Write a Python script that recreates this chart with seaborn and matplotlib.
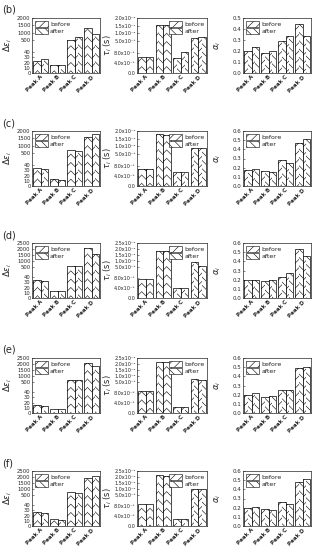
import numpy as np
import pandas as pd
import matplotlib
matplotlib.use('Agg')
import matplotlib.pyplot as plt
import seaborn as sns
from matplotlib.patches import Patch, Rectangle

sns.set_style('ticks')
plt.rcParams['font.family'] = ['DejaVu Sans']
plt.rcParams['hatch.linewidth'] = 0.4
plt.rcParams['axes.linewidth'] = 0.5

peaks = ['Peak A', 'Peak B', 'Peak C', 'Peak D']
row_labels = ['(b)', '(c)', '(d)', '(e)', '(f)']

# dielectric strength, one list per row (b)..(f)
de_before = [[24, 15, 550, 1300],
             [34, 13, 700, 1600],
             [35, 14, 560, 2050],
             [15, 8, 650, 2100],
             [27, 14, 700, 1950]]
de_after = [[27, 15, 750, 950],
            [32, 11, 650, 1800],
            [33, 13, 600, 1550],
            [13, 7, 620, 1850],
            [26, 12, 690, 2050]]

# relaxation time (s)
tau_before = [[6.5e-5, 1.55e-2, 6.0e-5, 7.0e-3],
              [7.0e-5, 1.80e-2, 5.8e-5, 9.0e-3],
              [7.5e-5, 1.85e-2, 4.1e-5, 9.5e-3],
              [9.0e-5, 2.15e-2, 2.5e-5, 7.5e-3],
              [9.0e-5, 2.15e-2, 2.8e-5, 1.0e-2]]
tau_after = [[6.5e-5, 1.55e-2, 8.5e-5, 7.5e-3],
             [7.0e-5, 1.75e-2, 5.5e-5, 8.5e-3],
             [7.5e-5, 1.85e-2, 4.2e-5, 6.0e-3],
             [9.0e-5, 2.15e-2, 2.5e-5, 7.0e-3],
             [9.0e-5, 2.10e-2, 2.8e-5, 1.0e-2]]

# shape parameter
alpha_before = [[0.197, 0.178, 0.29, 0.45],
                [0.18, 0.16, 0.28, 0.47],
                [0.20, 0.19, 0.233, 0.53],
                [0.20, 0.18, 0.255, 0.49],
                [0.20, 0.185, 0.265, 0.48]]
alpha_after = [[0.234, 0.20, 0.337, 0.337],
               [0.19, 0.15, 0.255, 0.515],
               [0.20, 0.20, 0.27, 0.463],
               [0.22, 0.19, 0.25, 0.50],
               [0.21, 0.18, 0.245, 0.51]]

de_top = [2000, 2000, 2500, 2500, 2500]
tau_top = [2.0e-2, 2.0e-2, 2.5e-2, 2.5e-2, 2.5e-2]
alpha_top = [0.5, 0.6, 0.6, 0.6, 0.6]

de_low_ticks = [0, 10, 20, 30, 40]
tau_low_ticks = [0.0, 4.0e-5, 8.0e-5]

SUP = str.maketrans('-0123456789', '⁻⁰¹²³⁴⁵⁶⁷⁸⁹')


def broken_scale(lo, top, frac):
    # piecewise linear axis: [0, lo] takes frac of the height, [lo, top] the rest
    def fwd(v):
        v = np.asarray(v, float)
        return np.where(v <= lo, v / lo * frac, frac + (v - lo) / (top - lo) * (1 - frac))

    def inv(u):
        u = np.asarray(u, float)
        return np.where(u <= frac, u / frac * lo, lo + (u - frac) / (1 - frac) * (top - lo))
    return fwd, inv


def sci(v):
    if v == 0:
        return '0.0'
    e = int(np.floor(np.log10(v)))
    m = v / 10 ** e
    return '%.1fx10%s' % (m, str(e).translate(SUP))


def draw_bars(ax, before, after):
    df = pd.DataFrame({'peak': peaks * 2,
                       'state': ['before'] * 4 + ['after'] * 4,
                       'value': list(before) + list(after)})
    sns.barplot(data=df, x='peak', y='value', hue='state', palette=['white', 'white'],
                edgecolor='black', linewidth=0.5, width=0.86, legend=False, ax=ax)


def add_chevrons(ax):
    for bar in list(ax.patches):
        x, w, h = bar.get_x(), bar.get_width(), bar.get_height()
        ax.add_patch(Rectangle((x, 0), w / 2, h, fill=False, hatch='////',
                               edgecolor='black', linewidth=0))
        ax.add_patch(Rectangle((x + w / 2, 0), w / 2, h, fill=False, hatch='\\\\\\\\',
                               edgecolor='black', linewidth=0))


def style(ax, ylabel, loc, label_x, tick_size=4):
    ax.set_xlabel('')
    ax.set_ylabel(ylabel, fontsize=6)
    ax.yaxis.set_label_coords(label_x, 0.5)
    ax.tick_params(axis='y', direction='in', length=1.5, width=0.4, labelsize=tick_size, pad=1)
    ax.tick_params(axis='x', length=0, labelsize=4, pad=1)
    for lab in ax.get_xticklabels():
        lab.set_rotation(45)
        lab.set_ha('right')
        lab.set_rotation_mode('anchor')
        lab.set_fontweight('bold')
    for s in ax.spines.values():
        s.set_visible(True)
        s.set_linewidth(0.5)
    handles = [Patch(facecolor='white', edgecolor='black', linewidth=0.4, hatch='////', label='before'),
               Patch(facecolor='white', edgecolor='black', linewidth=0.4, hatch='\\\\\\\\', label='after')]
    ax.legend(handles=handles, loc=loc, fontsize=4.5, frameon=False, handlelength=2.2,
              handleheight=1.3, labelspacing=0.05, handletextpad=0.3, borderaxespad=0.2,
              borderpad=0.2)


fig = plt.figure(figsize=(3.18, 5.5), dpi=100)
W, H = 318.0, 550.0
col_left = [32, 137, 243]
col_width = [68, 70, 68]
row_bottom = [73, 186, 298, 413, 526]
ax_h = 55

for r in range(5):
    yb = 1 - row_bottom[r] / H
    fig.text(2 / W, 1 - (row_bottom[r] - 63) / H, row_labels[r], fontsize=7, va='center', ha='left')

    # delta epsilon with broken axis
    ax = fig.add_axes([col_left[0] / W, yb, col_width[0] / W, ax_h / H])
    draw_bars(ax, de_before[r], de_after[r])
    ax.set_yscale('function', functions=broken_scale(50, de_top[r], 0.47))
    add_chevrons(ax)
    ax.set_ylim(0, de_top[r])
    up = list(range(500, de_top[r] + 1, 500))
    ax.set_yticks(de_low_ticks + up)
    ax.set_yticklabels([str(t) for t in de_low_ticks + up])
    ax.set_xlim(-0.5, 3.5)
    style(ax, r'$\Delta\varepsilon_i$', 'upper left', -0.27, 3.8)

    # tau with broken axis
    ax = fig.add_axes([col_left[1] / W, yb, col_width[1] / W, ax_h / H])
    draw_bars(ax, tau_before[r], tau_after[r])
    ax.set_yscale('function', functions=broken_scale(1e-4, tau_top[r], 0.45))
    add_chevrons(ax)
    ax.set_ylim(0, tau_top[r])
    up = list(np.arange(5e-3, tau_top[r] + 1e-4, 5e-3))
    ax.set_yticks(tau_low_ticks + up)
    ax.set_yticklabels([sci(t) for t in tau_low_ticks + up])
    ax.set_xlim(-0.5, 3.5)
    style(ax, r'$\tau_i$ (s)', 'upper right', -0.33, 3.5)

    # alpha, linear
    ax = fig.add_axes([col_left[2] / W, yb, col_width[2] / W, ax_h / H])
    draw_bars(ax, alpha_before[r], alpha_after[r])
    add_chevrons(ax)
    ax.set_ylim(0, alpha_top[r])
    ticks = list(np.round(np.arange(0, alpha_top[r] + 0.01, 0.1), 1))
    ax.set_yticks(ticks)
    ax.set_yticklabels(['%.1f' % t for t in ticks])
    ax.set_xlim(-0.5, 3.5)
    style(ax, r'$\alpha_i$', 'upper left', -0.29, 4)

fig.savefig('out.png', dpi=100, facecolor='white')
